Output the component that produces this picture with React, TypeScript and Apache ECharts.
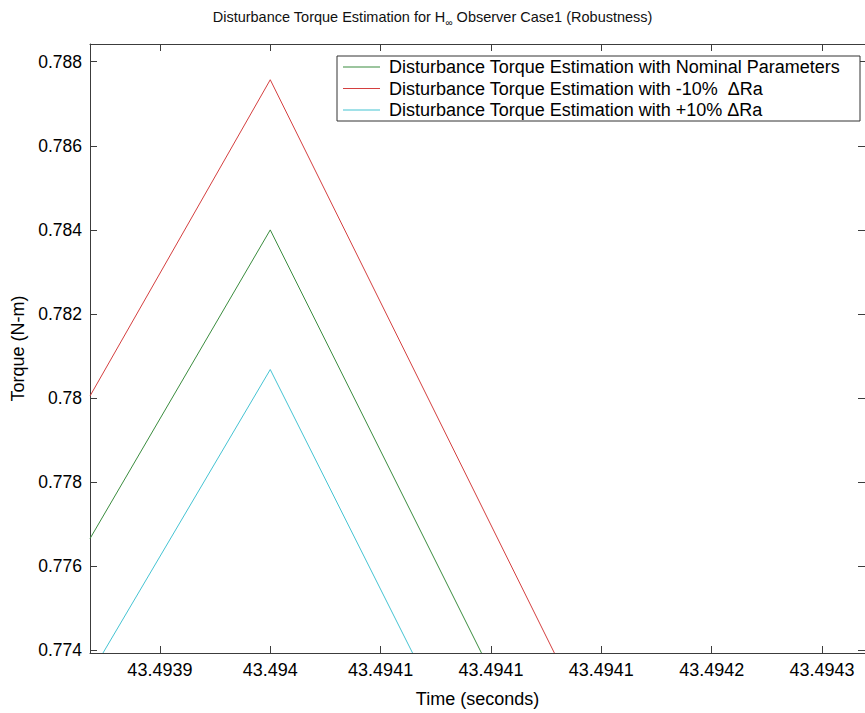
import React, { useEffect, useRef } from "react";
import * as echarts from "echarts";

// ---- data ----
const xTicks = [43.4939, 43.49395, 43.494, 43.49405, 43.4941, 43.49415, 43.4942];
const xTickLabels = ["43.4939", "43.494", "43.4941", "43.4941", "43.4941", "43.4942", "43.4943"];
const yTicks = [0.774, 0.776, 0.778, 0.78, 0.782, 0.784, 0.786, 0.788];
const yTickLabels = ["0.774", "0.776", "0.778", "0.78", "0.782", "0.784", "0.786", "0.788"];
const xMin = 43.49386833;
const xMax = 43.49421946;
const yMin = 0.77394;
const yMax = 0.78842;

const seriesNames = [
  "Disturbance Torque Estimation with Nominal Parameters",
  "Disturbance Torque Estimation with -10%  \u0394Ra",
  "Disturbance Torque Estimation with +10% \u0394Ra",
];
const nominalX = [43.49386833, 43.49395, 43.4940457];
const nominalY = [0.77666, 0.784, 0.77394];
const minus10X = [43.49386833, 43.49395, 43.49407873];
const minus10Y = [0.78005, 0.78757, 0.77394];
const plus10X = [43.49387421, 43.49395, 43.49401448];
const plus10Y = [0.77394, 0.78068, 0.77394];
const seriesColors = ["#3a8c3e", "#d43f3f", "#45c3d2"];

const FONT = "'Liberation Sans', Arial, Helvetica, sans-serif";
const AXIS_COLOR = "#3c3c3c";

function zip(xs: number[], ys: number[]) {
  return xs.map((x, i) => [x, ys[i]]);
}
function labelFor(v: number, ticks: number[], labels: string[]) {
  let best = 0;
  for (let i = 1; i < ticks.length; i++) {
    if (Math.abs(ticks[i] - v) < Math.abs(ticks[best] - v)) best = i;
  }
  return labels[best];
}

export default function App() {
  const ref = useRef<HTMLDivElement>(null);
  useEffect(() => {
    if (!ref.current) return;
    const chart = echarts.init(ref.current, undefined, { renderer: "svg" });
    const axisLine = { show: true, lineStyle: { color: AXIS_COLOR, width: 1 } };
    const option: any = {
      animation: false,
      backgroundColor: "#ffffff",
      title: {
        text: "Disturbance Torque Estimation for H{sub|\u221e} Observer Case1 (Robustness)",
        left: "center",
        top: 2,
        textStyle: {
          fontFamily: FONT,
          fontSize: 14.5,
          fontWeight: "normal",
          color: "#111",
          rich: {
            sub: { fontSize: 10, fontFamily: FONT, color: "#111", padding: [10, 0, 0, 0] },
          },
        },
      },
      legend: {
        orient: "vertical",
        left: 337,
        top: 56,
        padding: [1, 14, 1, 6],
        itemGap: 1.5,
        itemWidth: 37,
        itemHeight: 1,
        icon: "rect",
        borderColor: "#333",
        borderWidth: 1,
        backgroundColor: "#fff",
        textStyle: {
          fontFamily: FONT,
          fontSize: 18,
          color: "#000",
          lineHeight: 20,
          width: 457,
          overflow: "none",
          padding: [0, 0, 0, 4],
        },
        data: seriesNames,
      },
      grid: { left: 90, top: 44, width: 776, height: 617, containLabel: false },
      xAxis: [
        {
          type: "value",
          min: xMin,
          max: xMax,
          name: "Time (seconds)",
          nameLocation: "middle",
          nameGap: 37,
          nameTextStyle: { fontFamily: FONT, fontSize: 18, color: "#000" },
          axisLine,
          axisTick: { show: true, inside: true, length: 7, customValues: xTicks, lineStyle: { color: AXIS_COLOR } },
          axisLabel: {
            customValues: xTicks,
            fontFamily: FONT,
            fontSize: 18,
            color: "#000",
            margin: 8,
            formatter: (v: number) => labelFor(v, xTicks, xTickLabels),
          },
          splitLine: { show: false },
        },
        {
          type: "value",
          position: "top",
          min: xMin,
          max: xMax,
          axisLine,
          axisTick: { show: true, inside: true, length: 7, customValues: xTicks, lineStyle: { color: AXIS_COLOR } },
          axisLabel: { show: false },
          splitLine: { show: false },
        },
      ],
      yAxis: [
        {
          type: "value",
          min: yMin,
          max: yMax,
          name: "Torque (N-m)",
          nameLocation: "middle",
          nameGap: 58,
          nameTextStyle: { fontFamily: FONT, fontSize: 18, color: "#000" },
          axisLine,
          axisTick: { show: true, inside: true, length: 7, customValues: yTicks, lineStyle: { color: AXIS_COLOR } },
          axisLabel: {
            customValues: yTicks,
            fontFamily: FONT,
            fontSize: 17.5,
            color: "#000",
            margin: 8,
            formatter: (v: number) => labelFor(v, yTicks, yTickLabels),
          },
          splitLine: { show: false },
        },
        {
          type: "value",
          position: "right",
          min: yMin,
          max: yMax,
          axisLine,
          axisTick: { show: true, inside: true, length: 7, customValues: yTicks, lineStyle: { color: AXIS_COLOR } },
          axisLabel: { show: false },
          splitLine: { show: false },
        },
      ],
      series: [
        { name: seriesNames[0], data: zip(nominalX, nominalY), color: seriesColors[0] },
        { name: seriesNames[1], data: zip(minus10X, minus10Y), color: seriesColors[1] },
        { name: seriesNames[2], data: zip(plus10X, plus10Y), color: seriesColors[2] },
      ].map((s) => ({
        type: "line",
        name: s.name,
        data: s.data,
        symbol: "none",
        showSymbol: false,
        clip: true,
        xAxisIndex: 0,
        yAxisIndex: 0,
        itemStyle: { color: s.color },
        lineStyle: { color: s.color, width: 1 },
      })),
    };
    chart.setOption(option);
    return () => chart.dispose();
  }, []);
  return (
    <div
      ref={ref}
      style={{ position: "fixed", left: 0, top: 0, width: 865, height: 713, background: "#fff" }}
    />
  );
}
